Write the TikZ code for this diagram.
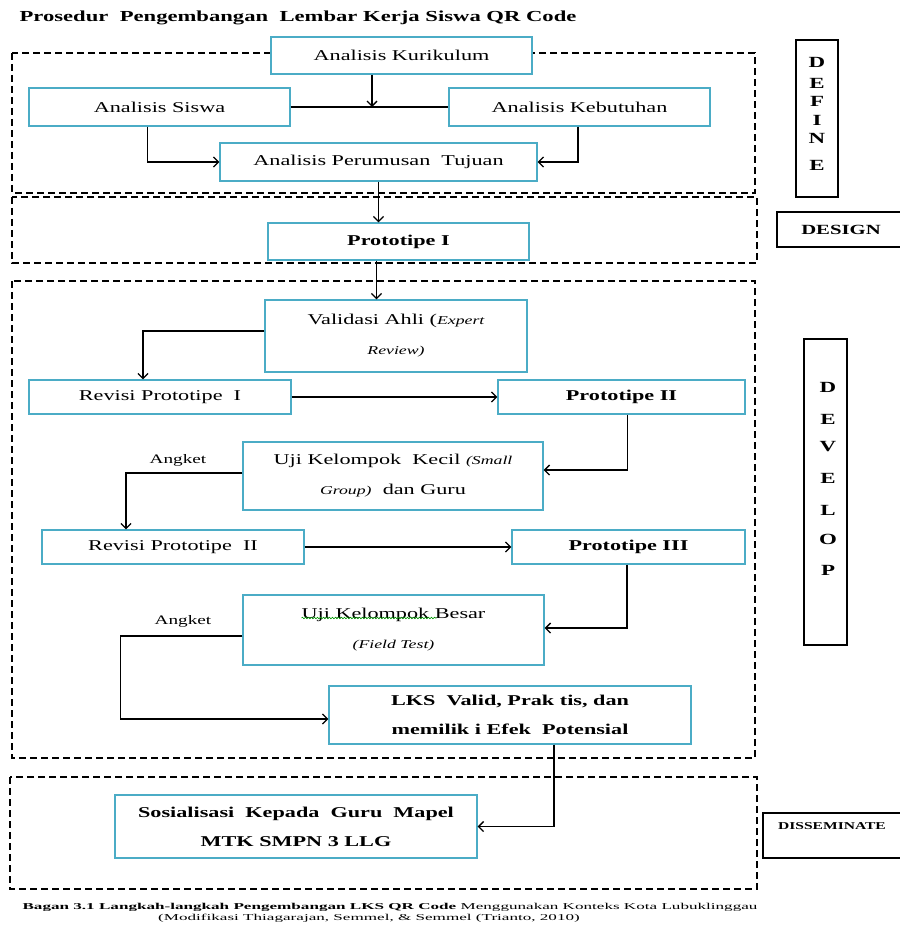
\documentclass[tikz,border=0pt]{standalone}
\usepackage{fontspec}
\setmainfont[FakeStretch=1.48]{Liberation Serif}
\newfontfamily\capfont[FakeStretch=1.9]{Liberation Serif}
\usetikzlibrary{positioning,arrows,arrows.meta,decorations.pathmorphing}
\definecolor{boxline}{HTML}{4BACC6}
\newcommand\engl[1]{{\fontsize{12}{30}\selectfont\itshape #1}}
\tikzset{
	>={Straight Barb[length=5pt,width=10pt]}
}

\begin{document}
\begin{tikzpicture}[
x = 1pt,
y = -1pt,
every node/.style = {
	font = \fontsize{15}{30}\selectfont
},
proc/.style = {
	draw = boxline,
	line width = 1.3pt,
	fill = white,
	align = center,
	inner sep = 0pt
},
phase/.style = {
	draw,
	line width = 1.4pt,
	dash pattern = on 7pt off 4pt
},
tag/.style = {
	draw,
	line width = 1.4pt,
	fill = white
},
letter/.style = {
	font = \fontsize{15.5}{15}\bfseries
},
link/.style = {
	->,
	line width = 1.3pt
},
note/.style = {
	font = \fontsize{13}{13}\selectfont
}
]

\useasboundingbox [fill = white] (0,0) rectangle (899,925);

\node (judul) [font = \fontsize{15.3}{18}\bfseries] at (298,18) {Prosedur\ \ Pengembangan\ \ Lembar Kerja Siswa QR Code};

% tahap define, design, develop, disseminate
\draw [phase] (12,53) rectangle (755,193);
\draw [phase] (12,197) rectangle (757,263);
\draw [phase] (12,281) rectangle (755,758);
\draw [phase] (10,777) rectangle (757,889);

\node (an_kurikulum) [proc, minimum width = 261pt, minimum height = 37pt] at (401.5,55.5) {Analisis Kurikulum};
\node (an_siswa) [proc, minimum width = 261pt, minimum height = 38pt] at (159.5,107) {Analisis Siswa};
\node (an_kebutuhan) [proc, minimum width = 261pt, minimum height = 38pt] at (579.5,107) {Analisis Kebutuhan};
\node (an_tujuan) [proc, minimum width = 317pt, minimum height = 38pt] at (378.5,162) {Analisis Perumusan\ \ Tujuan};

\node (proto_1) [proc, minimum width = 261pt, minimum height = 37pt, font = \fontsize{15}{30}\bfseries] at (398.5,241.5) {Prototipe I};

\node (validasi) [proc, minimum width = 262pt, minimum height = 72pt] at (396,336) {Validasi Ahli (\engl{Expert}\\ \engl{Review)}};
\node (revisi_1) [proc, minimum width = 262pt, minimum height = 34pt] at (160,397) {Revisi Prototipe\ \ I};
\node (proto_2) [proc, minimum width = 247pt, minimum height = 34pt, font = \fontsize{15}{30}\bfseries] at (621.5,397) {Prototipe II};
\node (uji_kecil) [proc, minimum width = 300pt, minimum height = 68pt] at (393,476) {Uji Kelompok\ \ Kecil \engl{(Small}\\ \engl{Group)}\ \ dan Guru};
\node (revisi_2) [proc, minimum width = 262pt, minimum height = 34pt] at (173,547) {Revisi Prototipe\ \ II};
\node (proto_3) [proc, minimum width = 233pt, minimum height = 34pt, font = \fontsize{15}{30}\bfseries] at (628.5,547) {Prototipe III};
\node (uji_besar) [proc, minimum width = 301pt, minimum height = 70pt] at (393.5,630) {Uji Kelompok Besar\\ \engl{(Field Test)}};
\node (lks) [proc, minimum width = 362pt, minimum height = 58pt, font = \fontsize{15}{29}\bfseries] at (510,715) {LKS\ \ Valid, Prak tis, dan\\ memilik i Efek\ \ Potensial};
\node (sosialisasi) [proc, minimum width = 362pt, minimum height = 63pt, font = \fontsize{15}{29}\bfseries] at (296,826.5) {Sosialisasi\ \ Kepada\ \ Guru\ \ Mapel\\ MTK SMPN 3 LLG};

% garis bawah ejaan
\draw [green!60!black, line width = 0.6pt, decorate, decoration = {snake, amplitude = 0.8pt, segment length = 3pt}] ([xshift = -92pt, yshift = 12pt]uji_besar.center) -- ([xshift = 43pt, yshift = 12pt]uji_besar.center);

\node (angket_1) [note] at (178,460) {Angket};
\node (angket_2) [note] at (183,621) {Angket};

% label tahap
\node (tag_define) [tag, minimum width = 42pt, minimum height = 157pt] at (817,118.5) {};
\foreach \ch/\yy [count = \i] in {D/62,E/83,F/101,I/120,N/138,E/165}
	\node (def_\i) [letter] at (817,\yy) {\ch};
\node (tag_design) [tag, minimum width = 128pt, minimum height = 35pt, font = \fontsize{14}{14}\bfseries] at (841,229.5) {DESIGN};
\node (tag_develop) [tag, minimum width = 43pt, minimum height = 306pt] at (825.5,492) {};
\foreach \ch/\yy [count = \i] in {D/387,E/419,V/447,E/478,L/510,O/539,P/570}
	\node (dev_\i) [letter] at (828,\yy) {\ch};
\node (tag_dissem) [tag, minimum width = 142pt, minimum height = 45pt] at (834,835.5) {};
\node (dissem_t) [font = \fontsize{10.5}{12}\bfseries] at (832,826) {DISSEMINATE};

% alur
\coordinate (temu) at (372,107);
\draw [line width = 1.3pt] (an_siswa.east) -- (an_kebutuhan.west);
\draw [link] (an_kurikulum.south -| temu) -- (temu);
\draw [link] ([xshift = -12pt]an_siswa.south) |- (an_tujuan.west);
\draw [link] ([xshift = -1.5pt]an_kebutuhan.south) |- (an_tujuan.east);
\draw [link] (an_tujuan.south) -- (an_tujuan.south |- proto_1.north);
\draw [link] ([xshift = -22pt]proto_1.south) -- ([xshift = -22pt]proto_1.south |- validasi.north);
\draw [link] ([yshift = 5pt]validasi.west) -| ([xshift = -17pt]revisi_1.north);
\draw [link] (revisi_1.east) -- (proto_2.west);
\draw [link] ([xshift = 6pt]proto_2.south) |- ([yshift = 6pt]uji_kecil.east);
\draw [link] ([yshift = 3pt]uji_kecil.west) -| ([xshift = -47pt]revisi_2.north);
\draw [link] (revisi_2.east) -- (proto_3.west);
\draw [link] ([xshift = -1.5pt]proto_3.south) |- ([yshift = 2pt]uji_besar.east);
\draw [link] ([yshift = -6pt]uji_besar.west) -- ++(-122,0) |- ([yshift = -4pt]lks.west);
\draw [link] ([xshift = 44pt]lks.south) |- (sosialisasi.east);

\node (cap_1) [font = \capfont\fontsize{9}{11}\selectfont] at (390,907) {\textbf{Bagan 3.1 Langkah-langkah Pengembangan LKS QR Code} Menggunakan Konteks Kota Lubuklinggau};
\node (cap_2) [font = \capfont\fontsize{9}{11}\selectfont] at (369,918) {(Modifikasi Thiagarajan, Semmel, \& Semmel (Trianto, 2010)};

\end{tikzpicture}
\end{document}
